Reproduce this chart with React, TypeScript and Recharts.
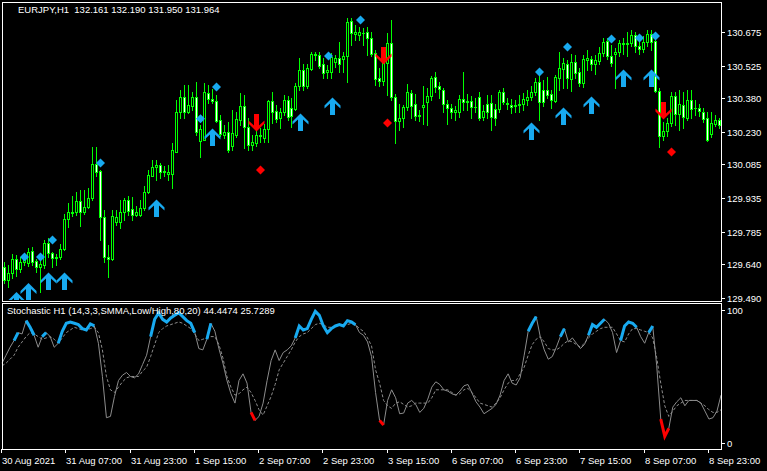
import { ComposedChart, Bar, Line, XAxis, YAxis } from 'recharts'

// EURJPY H1 candles, bar 0 = 30 Aug 15:00
const opens = [
  129.628, 129.570, 129.601, 129.664, 129.619, 129.650, 129.646, 129.699, 129.655, 129.628,
  129.637, 129.735, 129.690, 129.668, 129.673, 129.708, 129.842, 129.873, 129.873, 129.922,
  129.873, 129.895, 129.935, 130.087, 130.056, 129.851, 129.673, 129.664, 129.829, 129.829,
  129.873, 129.927, 129.887, 129.860, 129.860, 129.891, 129.962, 130.033, 130.073, 130.082,
  130.051, 130.042, 130.042, 130.140, 130.319, 130.385, 130.319, 130.345, 130.385, 130.190,
  130.194, 130.403, 130.377, 130.368, 130.283, 130.216, 130.229, 130.167, 130.216, 130.283,
  130.345, 130.252, 130.172, 130.181, 130.212, 130.203, 130.243, 130.368, 130.323, 130.292,
  130.319, 130.372, 130.336, 130.332, 130.435, 130.506, 130.435, 130.510, 130.573, 130.573,
  130.533, 130.497, 130.497, 130.541, 130.559, 130.555, 130.568, 130.724, 130.666, 130.662,
  130.670, 130.675, 130.648, 130.582, 130.470, 130.457, 130.537, 130.626, 130.385, 130.279,
  130.292, 130.341, 130.403, 130.354, 130.301, 130.341, 130.363, 130.390, 130.475, 130.435,
  130.417, 130.354, 130.336, 130.319, 130.319, 130.377, 130.363, 130.368, 130.341, 130.385,
  130.296, 130.354, 130.359, 130.332, 130.332, 130.408, 130.354, 130.350, 130.345, 130.350,
  130.354, 130.372, 130.385, 130.408, 130.452, 130.417, 130.417, 130.399, 130.368, 130.470,
  130.510, 130.533, 130.466, 130.541, 130.497, 130.448, 130.550, 130.555, 130.533, 130.546,
  130.582, 130.635, 130.568, 130.577, 130.586, 130.622, 130.622, 130.626, 130.662, 130.613,
  130.599, 130.631, 130.666, 130.635, 130.412, 130.212, 130.234, 130.270, 130.390, 130.310,
  130.350, 130.292, 130.372, 130.336, 130.336, 130.319, 130.292, 130.221, 130.265, 130.283,
]
const highs = [
  129.650, 129.637, 129.686, 129.682, 129.673, 129.682, 129.713, 129.717, 129.664, 129.659,
  129.748, 129.757, 129.695, 129.686, 129.730, 129.864, 129.913, 129.944, 129.962, 129.971,
  129.971, 129.980, 130.163, 130.163, 130.060, 129.882, 129.726, 129.882, 129.882, 129.927,
  129.935, 129.944, 129.940, 129.900, 129.927, 129.989, 130.060, 130.105, 130.105, 130.091,
  130.078, 130.082, 130.181, 130.372, 130.417, 130.439, 130.439, 130.408, 130.452, 130.261,
  130.448, 130.439, 130.421, 130.394, 130.305, 130.261, 130.274, 130.328, 130.319, 130.403,
  130.394, 130.292, 130.216, 130.247, 130.247, 130.265, 130.372, 130.408, 130.350, 130.336,
  130.394, 130.390, 130.381, 130.448, 130.559, 130.533, 130.533, 130.586, 130.586, 130.586,
  130.559, 130.528, 130.582, 130.573, 130.631, 130.586, 130.737, 130.737, 130.706, 130.697,
  130.693, 130.697, 130.675, 130.595, 130.515, 130.573, 130.670, 130.728, 130.399, 130.354,
  130.350, 130.443, 130.417, 130.399, 130.328, 130.435, 130.426, 130.479, 130.497, 130.452,
  130.426, 130.372, 130.354, 130.345, 130.394, 130.497, 130.399, 130.390, 130.381, 130.408,
  130.350, 130.394, 130.394, 130.354, 130.417, 130.426, 130.381, 130.377, 130.372, 130.394,
  130.403, 130.417, 130.435, 130.470, 130.506, 130.461, 130.475, 130.417, 130.484, 130.586,
  130.559, 130.550, 130.577, 130.573, 130.515, 130.573, 130.595, 130.568, 130.573, 130.608,
  130.648, 130.648, 130.617, 130.604, 130.639, 130.648, 130.675, 130.684, 130.675, 130.639,
  130.657, 130.684, 130.684, 130.675, 130.426, 130.274, 130.292, 130.408, 130.408, 130.417,
  130.408, 130.417, 130.417, 130.372, 130.354, 130.336, 130.319, 130.319, 130.305, 130.292,
]
const lows = [
  129.557, 129.539, 129.579, 129.588, 129.606, 129.637, 129.633, 129.637, 129.606, 129.517,
  129.624, 129.673, 129.628, 129.637, 129.664, 129.704, 129.806, 129.855, 129.860, 129.811,
  129.864, 129.891, 129.927, 130.033, 129.748, 129.650, 129.583, 129.660, 129.815, 129.802,
  129.837, 129.860, 129.837, 129.855, 129.855, 129.880, 129.957, 130.033, 130.016, 130.024,
  130.033, 130.016, 129.980, 130.140, 130.292, 130.292, 130.314, 130.328, 130.216, 130.118,
  130.194, 130.359, 130.359, 130.274, 130.212, 130.203, 130.140, 130.149, 130.207, 130.261,
  130.158, 130.149, 130.149, 130.167, 130.185, 130.185, 130.185, 130.270, 130.274, 130.247,
  130.305, 130.283, 130.252, 130.328, 130.417, 130.417, 130.426, 130.506, 130.550, 130.515,
  130.470, 130.470, 130.470, 130.519, 130.497, 130.497, 130.452, 130.617, 130.639, 130.639,
  130.617, 130.573, 130.568, 130.439, 130.435, 130.439, 130.394, 130.372, 130.181, 130.238,
  130.252, 130.328, 130.292, 130.283, 130.279, 130.265, 130.261, 130.372, 130.408, 130.381,
  130.319, 130.265, 130.292, 130.283, 130.296, 130.328, 130.328, 130.292, 130.319, 130.283,
  130.283, 130.292, 130.238, 130.261, 130.319, 130.354, 130.332, 130.314, 130.319, 130.319,
  130.328, 130.350, 130.372, 130.394, 130.283, 130.345, 130.381, 130.336, 130.363, 130.417,
  130.426, 130.426, 130.412, 130.470, 130.435, 130.430, 130.506, 130.506, 130.488, 130.533,
  130.568, 130.555, 130.524, 130.426, 130.568, 130.577, 130.568, 130.613, 130.586, 130.577,
  130.586, 130.613, 130.595, 130.408, 130.163, 130.194, 130.212, 130.256, 130.261, 130.238,
  130.247, 130.283, 130.292, 130.305, 130.301, 130.274, 130.190, 130.207, 130.256, 130.247,
]
const closes = [
  129.570, 129.601, 129.664, 129.619, 129.650, 129.659, 129.695, 129.650, 129.628, 129.641,
  129.735, 129.690, 129.668, 129.673, 129.708, 129.842, 129.873, 129.870, 129.922, 129.873,
  129.895, 129.935, 130.087, 130.051, 129.851, 129.673, 129.664, 129.855, 129.851, 129.873,
  129.927, 129.878, 129.860, 129.873, 129.891, 129.962, 130.038, 130.073, 130.082, 130.051,
  130.056, 130.051, 130.149, 130.319, 130.385, 130.319, 130.350, 130.385, 130.229, 130.243,
  130.408, 130.377, 130.368, 130.279, 130.221, 130.229, 130.149, 130.225, 130.288, 130.345,
  130.252, 130.172, 130.185, 130.216, 130.216, 130.243, 130.368, 130.319, 130.288, 130.319,
  130.372, 130.296, 130.301, 130.435, 130.506, 130.435, 130.515, 130.577, 130.577, 130.524,
  130.493, 130.506, 130.564, 130.559, 130.533, 130.568, 130.720, 130.670, 130.675, 130.675,
  130.672, 130.648, 130.577, 130.466, 130.457, 130.537, 130.626, 130.385, 130.279, 130.292,
  130.341, 130.408, 130.345, 130.301, 130.305, 130.350, 130.390, 130.470, 130.430, 130.421,
  130.354, 130.336, 130.319, 130.328, 130.377, 130.363, 130.368, 130.341, 130.343, 130.292,
  130.323, 130.319, 130.296, 130.292, 130.408, 130.363, 130.359, 130.341, 130.350, 130.354,
  130.377, 130.385, 130.408, 130.452, 130.363, 130.363, 130.394, 130.372, 130.475, 130.515,
  130.537, 130.470, 130.541, 130.493, 130.448, 130.555, 130.559, 130.533, 130.550, 130.582,
  130.631, 130.568, 130.537, 130.586, 130.626, 130.626, 130.626, 130.662, 130.613, 130.599,
  130.631, 130.666, 130.631, 130.412, 130.212, 130.234, 130.270, 130.390, 130.310, 130.354,
  130.296, 130.372, 130.332, 130.336, 130.323, 130.288, 130.194, 130.270, 130.283, 130.261,
]

// signal markers: [bar, price]
const upArrows: [number, number][] = [
  [3, 129.479], [6, 129.519], [11, 129.566], [15, 129.566], [38, 129.891], [52, 130.207],
  [74, 130.274], [82, 130.345], [132, 130.234], [140, 130.301], [147, 130.350], [155, 130.470], [162, 130.470],
]
const downArrows: [number, number][] = [[63, 130.270], [95, 130.568], [165, 130.323]]
const blueDots: [number, number][] = [
  [5, 129.673], [9, 129.673], [12, 129.748], [24, 130.091], [49, 130.288], [53, 130.430], [81, 130.568],
  [89, 130.728], [134, 130.497], [141, 130.608], [152, 130.644], [159, 130.648], [163, 130.657],
]
const redDots: [number, number][] = [[64, 130.060], [96, 130.270], [167, 130.140]]

const priceTicks = [129.49, 129.64, 129.785, 129.935, 130.085, 130.23, 130.38, 130.525, 130.675]
const timeLabels = [
  '30 Aug 2021', '31 Aug 07:00', '31 Aug 23:00', '1 Sep 15:00', '2 Sep 07:00', '2 Sep 23:00',
  '3 Sep 15:00', '6 Sep 07:00', '6 Sep 23:00', '7 Sep 15:00', '8 Sep 07:00', '8 Sep 23:00',
]
const labelStep = 16

// Stochastic (14,3,3) main and signal
const stochMain = [
  60, 66, 72, 77, 83, 82, 92, 87, 81, 72, 80, 83, 80, 72, 75, 84, 90, 91, 90, 89,
  86, 85, 89.5, 88, 75, 50, 19, 20, 35, 47, 51, 53, 50, 49, 52, 59, 66, 80, 93, 97.7,
  93, 91, 94, 96, 98, 95, 92, 90, 83, 71, 70, 78, 90, 84, 71, 60, 47, 37, 30, 47,
  52, 45, 23, 17, 20, 30, 47, 62, 70, 62, 68, 70, 73, 79, 88, 85, 86, 93, 99, 96,
  88, 83, 86, 88, 89, 88, 92, 91, 89, 83, 81, 76, 65, 38, 17, 13.5, 32, 40, 34, 22,
  22.5, 30, 32, 29, 23, 26, 33, 42, 46, 44, 40, 39, 37, 36, 39, 43, 44, 37.6, 31, 27,
  22, 24, 26, 29, 36, 47, 52, 45, 43.6, 49, 66, 84, 90, 95, 80, 70, 63, 65, 72, 80,
  86, 76, 79, 75, 71, 74, 81, 89, 87, 90, 93, 90, 83, 68, 77, 88, 91, 90, 87, 80,
  75, 83, 88, 58, 18, 5, 11, 27, 31, 34, 28, 32, 32, 32, 30, 24, 18, 19, 24, 36,
]
const stochSignal = [
  58, 60, 63, 66, 72, 76, 80, 83, 82, 80, 78, 79, 80, 78, 75, 79, 83, 85, 87, 86,
  85, 85, 86, 87, 83, 70, 50, 40, 38, 42, 46, 49, 50, 50, 50, 54, 57, 65, 74, 83,
  86, 88, 89, 90, 91, 90, 88, 86, 82, 77, 78, 79, 80, 80, 74, 64, 50, 42, 36, 37,
  40, 42, 38, 32, 25, 21, 28, 35, 44, 55, 60, 65, 70, 76, 80, 82, 83, 86, 89, 90,
  89, 87, 87, 88, 89, 89, 89, 90, 89, 86, 84, 79, 73, 55, 45, 32, 28, 26, 30, 31,
  29, 27, 28, 30, 30, 30, 30, 34, 40, 40, 40, 40, 38, 36, 37, 40, 41, 38, 34, 30,
  29, 28, 27, 30, 34, 40, 45, 47, 47, 52, 57, 66, 74, 78, 80, 76, 71, 70, 70, 72,
  75, 77, 76, 74, 72, 75, 79, 82, 84, 86, 87, 87, 87, 82, 77, 76, 82, 86, 86, 85,
  84, 83, 79, 64, 45, 28, 20, 24, 28, 30, 32, 32, 32, 32, 30, 28, 25, 23, 23, 25,
]
// bars where the indicator line is highlighted
const blueRanges = [[3, 4], [6, 8], [10, 11], [14, 23], [37, 48], [51, 52], [73, 88], [131, 133], [139, 140], [146, 150], [154, 158], [161, 162]]
const redRanges = [[62, 63], [94, 95], [164, 166]]

const LIME = '#00ff00'
const BLUE = '#18aaf0'
const RED = '#ff0000'
const FONT = '"Liberation Sans", Arial, sans-serif'

const inRanges = (i: number, ranges: number[][]) => ranges.some(([a, b]) => i >= a && i <= b)

const upMap = new Map(upArrows)
const downMap = new Map(downArrows)
const blueMap = new Map(blueDots)
const redMap = new Map(redDots)

const priceRows = opens.map((o, i) => ({
  i,
  o,
  h: highs[i],
  l: lows[i],
  c: closes[i],
  range: [lows[i], highs[i]],
  up: upMap.get(i) ?? null,
  down: downMap.get(i) ?? null,
  bdot: blueMap.get(i) ?? null,
  rdot: redMap.get(i) ?? null,
}))

const stochRows = stochMain.map((m, i) => ({
  i,
  m,
  s: stochSignal[i],
  blue: inRanges(i, blueRanges) ? m : null,
  red: inRanges(i, redRanges) ? m : null,
}))

const Candle = (props: any) => {
  const { x, y, width, height, payload } = props
  if (height == null || isNaN(y)) return <g />
  const { o, h, l, c } = payload
  const k = height / (h - l)
  const cx = Math.round(x + width / 2)
  const yo = y + (h - o) * k
  const yc = y + (h - c) * k
  const top = Math.round(Math.min(yo, yc))
  const bot = Math.max(top, Math.round(Math.max(yo, yc)))
  const bear = c < o
  return (
    <g>
      <line x1={cx + 0.5} x2={cx + 0.5} y1={Math.round(y)} y2={Math.round(y + height) + 1} stroke={LIME} strokeWidth={1} />
      <rect x={cx - 1} y={top} width={3} height={bot - top + 1} fill={LIME} />
      {bot - top >= 2 && <rect x={cx} y={top + 1} width={1} height={bot - top - 1} fill={bear ? '#ffffff' : '#000000'} />}
    </g>
  )
}

const upPath = (cx: number, cy: number) =>
  `M${cx},${cy - 8.5} l8,8 v3 l-5.5,-5 v11.5 h-5 v-11.5 l-5.5,5 v-3 z`
const downPath = (cx: number, cy: number) =>
  `M${cx},${cy + 8.5} l8,-8 v-3 l-5.5,5 v-11.5 h-5 v11.5 l-5.5,-5 v3 z`
const diamondPath = (cx: number, cy: number) =>
  `M${cx},${cy - 4.5} L${cx + 4.5},${cy} L${cx},${cy + 4.5} L${cx - 4.5},${cy} Z`

const marker = (kind: 'up' | 'down' | 'dia', color: string) => (p: any) => {
  const key = `${kind}-${color}-${p.index}`
  if (p.value == null || p.cy == null || isNaN(p.cy)) return <g key={key} />
  const cx = Math.round(p.cx) + 0.5
  const cy = p.cy
  const d = kind === 'up' ? upPath(cx, cy) : kind === 'down' ? downPath(cx, cy) : diamondPath(cx, cy)
  return <path key={key} d={d} fill={color} />
}

const PriceTick = (props: any) => {
  const { y, payload } = props
  const yy = Math.round(y) + 0.5
  return (
    <g>
      <line x1={721} x2={725} y1={yy} y2={yy} stroke="#fff" />
      <text x={727} y={yy + 3.5} fill="#fff" fontSize={9.5} fontFamily={FONT}>
        {payload.value.toFixed(3)}
      </text>
    </g>
  )
}

const StochTick = (props: any) => {
  const { y, payload } = props
  const yy = Math.round(y) + 0.5
  return (
    <g>
      <line x1={721} x2={725} y1={yy} y2={yy} stroke="#fff" />
      <text x={727} y={yy + 3.5} fill="#fff" fontSize={9.5} fontFamily={FONT}>
        {String(payload.value)}
      </text>
    </g>
  )
}

const TimeTick = (props: any) => {
  const { x, payload } = props
  const tx = Math.round(x) - 0.5
  return (
    <g>
      <line x1={tx} x2={tx} y1={148} y2={152} stroke="#fff" />
      <text x={tx + 0.5} y={162.5} fill="#fff" fontSize={9.5} fontFamily={FONT}>
        {timeLabels[payload.value / labelStep]}
      </text>
    </g>
  )
}

const App = () => {
  return (
    <div style={{ position: 'relative', width: 767, height: 471, background: '#000', overflow: 'hidden' }}>
      <style>{'body{margin:0;background:#000}'}</style>

      {/* Price panel */}
      <div style={{ position: 'absolute', left: 0, top: 0 }}>
        <ComposedChart width={767} height={306} data={priceRows} margin={{ top: 3, right: 0, bottom: 6, left: 2 }}>
          <XAxis dataKey="i" hide />
          <YAxis
            orientation="right"
            width={46}
            domain={[129.4811, 130.8042]}
            allowDataOverflow
            ticks={priceTicks}
            interval={0}
            axisLine={false}
            tickLine={false}
            tick={PriceTick}
          />
          <Bar dataKey="range" shape={Candle} isAnimationActive={false} />
          <Line dataKey="bdot" stroke="none" dot={marker('dia', BLUE)} activeDot={false} isAnimationActive={false} />
          <Line dataKey="rdot" stroke="none" dot={marker('dia', RED)} activeDot={false} isAnimationActive={false} />
          <Line dataKey="up" stroke="none" dot={marker('up', BLUE)} activeDot={false} isAnimationActive={false} />
          <Line dataKey="down" stroke="none" dot={marker('down', RED)} activeDot={false} isAnimationActive={false} />
        </ComposedChart>
      </div>

      {/* Stochastic panel */}
      <div style={{ position: 'absolute', left: 0, top: 301 }}>
        <ComposedChart width={767} height={170} data={stochRows} margin={{ top: 2, right: 0, bottom: 0, left: 2 }}>
          <XAxis
            dataKey="i"
            height={22}
            ticks={timeLabels.map((_, k) => k * labelStep)}
            interval={0}
            axisLine={false}
            tickLine={false}
            tick={TimeTick}
          />
          <YAxis
            orientation="right"
            width={46}
            domain={[-4.51, 105.26]}
            allowDataOverflow
            ticks={[0, 100]}
            interval={0}
            axisLine={false}
            tickLine={false}
            tick={StochTick}
          />
          <Line dataKey="s" stroke="#8c8c8c" strokeWidth={1} strokeDasharray="3 2" dot={false} activeDot={false} isAnimationActive={false} />
          <Line dataKey="m" stroke="#8c8c8c" strokeWidth={1} dot={false} activeDot={false} isAnimationActive={false} />
          <Line dataKey="blue" stroke={BLUE} strokeWidth={3} dot={false} activeDot={false} connectNulls={false} isAnimationActive={false} />
          <Line dataKey="red" stroke={RED} strokeWidth={3} dot={false} activeDot={false} connectNulls={false} isAnimationActive={false} />
        </ComposedChart>
      </div>

      {/* panel frames */}
      <div style={{ position: 'absolute', left: 2, top: 2, width: 720, height: 300, border: '1px solid #fff', boxSizing: 'border-box', pointerEvents: 'none' }} />
      <div style={{ position: 'absolute', left: 2, top: 303, width: 720, height: 147, border: '1px solid #fff', boxSizing: 'border-box', pointerEvents: 'none' }} />

      <div style={{ position: 'absolute', left: 18, top: 4, color: '#fff', font: `9.5px ${FONT}`, whiteSpace: 'pre', lineHeight: '12px' }}>
        {'EURJPY,H1  132.161 132.190 131.950 131.964'}
      </div>
      <div style={{ position: 'absolute', left: 7, top: 305, color: '#fff', font: `9.5px ${FONT}`, whiteSpace: 'pre', lineHeight: '12px' }}>
        {'Stochastic H1 (14,3,3,SMMA,Low/High,80,20) 44.4474 25.7289'}
      </div>
    </div>
  )
}

export default App
